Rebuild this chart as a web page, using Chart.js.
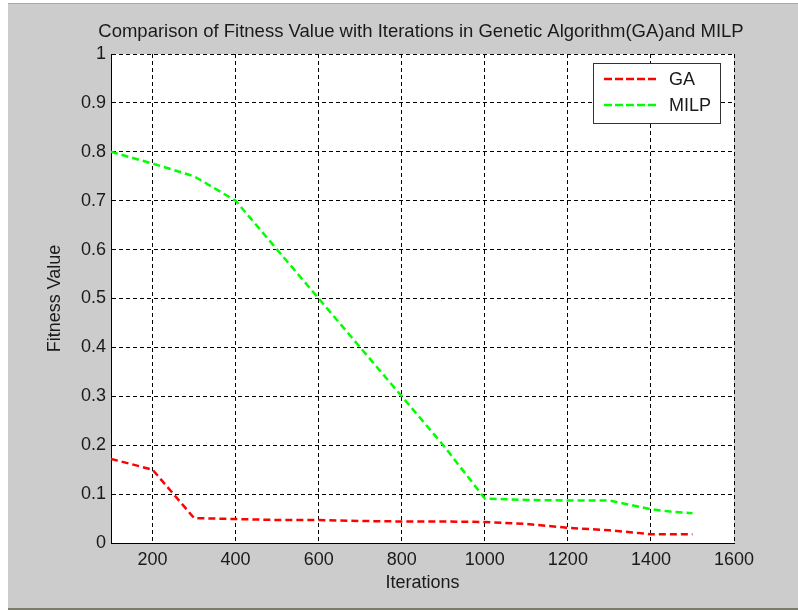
<!DOCTYPE html>
<html>
<head>
<meta charset="utf-8">
<script src="https://cdn.jsdelivr.net/npm/chart.js@4"></script>
<style>
  html, body { margin: 0; padding: 0; background: #cccccc; }
  canvas { display: block; }
</style>
</head>
<body>
<canvas id="fitChart" width="798" height="610"></canvas>
<script>
// data
const iterations = [100, 200, 300, 400, 500, 600, 700, 800, 900, 1000, 1100, 1200, 1300, 1350, 1400, 1450, 1500];
const gaValues   = [0.172, 0.150, 0.051, 0.049, 0.047, 0.047, 0.045, 0.044, 0.044, 0.043, 0.039, 0.031, 0.026, 0.022, 0.018, 0.018, 0.018];
const milpValues = [0.800, 0.776, 0.750, 0.700, 0.600, 0.500, 0.400, 0.300, 0.200, 0.091, 0.088, 0.087, 0.087, 0.078, 0.069, 0.064, 0.061];
const xTicks = [200, 400, 600, 800, 1000, 1200, 1400, 1600];
const yTicks = [0, 0.1, 0.2, 0.3, 0.4, 0.5, 0.6, 0.7, 0.8, 0.9, 1];

const FONT = 'Arial, "Liberation Sans", sans-serif';

function toPoints(xs, ys) {
    return xs.map((x, i) => ({ x: x, y: ys[i] }));
}

const frame = {
    id: 'frame',
    beforeDraw(chart) {
        const ctx = chart.ctx;
        const a = chart.chartArea;
        ctx.save();
        ctx.fillStyle = '#cccccc';
        ctx.fillRect(0, 0, chart.width, chart.height);
        ctx.fillStyle = '#ffffff';
        ctx.fillRect(0, 0, chart.width, 3);
        ctx.fillRect(0, 0, 8, chart.height);
        ctx.fillStyle = '#a8a8a8';
        ctx.fillRect(8, 3, chart.width - 8, 1);
        ctx.fillStyle = '#7c7c6c';
        ctx.fillRect(8, chart.height - 2, chart.width - 8, 2);
        ctx.fillStyle = '#ffffff';
        ctx.fillRect(a.left, a.top, a.right - a.left, a.bottom - a.top);
        ctx.restore();
    },
    afterDraw(chart) {
        const ctx = chart.ctx;
        const a = chart.chartArea;
        ctx.save();
        ctx.fillStyle = '#1a1a1a';
        ctx.textAlign = 'center';
        ctx.textBaseline = 'middle';
        ctx.font = '18.5px ' + FONT;
        ctx.fillText('Comparison of Fitness Value with Iterations in Genetic Algorithm(GA)and MILP', 421, 32);
        ctx.font = '18px ' + FONT;
        ctx.fillText('Iterations', (a.left + a.right) / 2, 583);
        ctx.translate(55, (a.top + a.bottom) / 2);
        ctx.rotate(-Math.PI / 2);
        ctx.fillText('Fitness Value', 0, 0);
        ctx.restore();

        // legend box
        const lx = 593, ly = 63, lw = 127, lh = 60;
        ctx.save();
        ctx.fillStyle = '#ffffff';
        ctx.fillRect(lx, ly, lw, lh);
        ctx.strokeStyle = '#333333';
        ctx.lineWidth = 1;
        ctx.strokeRect(lx + 0.5, ly + 0.5, lw, lh);
        chart.data.datasets.forEach((ds, i) => {
            const yy = 79 + i * 26;
            ctx.strokeStyle = ds.borderColor;
            ctx.lineWidth = 2.5;
            ctx.setLineDash([8, 3]);
            ctx.beginPath();
            ctx.moveTo(604, yy);
            ctx.lineTo(659, yy);
            ctx.stroke();
            ctx.setLineDash([]);
            ctx.fillStyle = '#1a1a1a';
            ctx.font = '18px ' + FONT;
            ctx.textAlign = 'left';
            ctx.textBaseline = 'middle';
            ctx.fillText(ds.label, 669, yy + 1);
        });
        ctx.restore();
    }
};

new Chart(document.getElementById('fitChart'), {
    type: 'line',
    data: {
        datasets: [
            {
                label: 'GA',
                data: toPoints(iterations, gaValues),
                borderColor: '#ff0000',
                borderWidth: 2.5,
                borderDash: [7, 4],
                pointRadius: 0,
                tension: 0,
                fill: false
            },
            {
                label: 'MILP',
                data: toPoints(iterations, milpValues),
                borderColor: '#00ff00',
                borderWidth: 2.5,
                borderDash: [7, 4],
                pointRadius: 0,
                tension: 0,
                fill: false
            }
        ]
    },
    options: {
        responsive: false,
        animation: false,
        layout: { padding: { top: 54, right: 64, left: 0, bottom: 0 } },
        plugins: {
            legend: { display: false },
            tooltip: { enabled: false }
        },
        scales: {
            x: {
                type: 'linear',
                min: 100,
                max: 1600,
                afterBuildTicks: s => { s.ticks = xTicks.map(v => ({ value: v })); },
                afterFit: s => { s.height = 67; },
                grid: { color: '#000000', lineWidth: 1, drawTicks: false },
                border: { color: '#000000', width: 1, dash: [4, 3] },
                ticks: {
                    color: '#1a1a1a',
                    padding: 6,
                    maxRotation: 0,
                    font: { family: FONT, size: 18 },
                    callback: v => String(v)
                }
            },
            y: {
                min: 0,
                max: 1,
                afterBuildTicks: s => { s.ticks = yTicks.map(v => ({ value: v })); },
                afterFit: s => { s.width = 111; },
                grid: { color: '#000000', lineWidth: 1, drawTicks: false },
                border: { color: '#000000', width: 1, dash: [4, 3] },
                ticks: {
                    color: '#1a1a1a',
                    padding: 5,
                    font: { family: FONT, size: 18 },
                    callback: v => String(Math.round(v * 10) / 10)
                }
            }
        }
    },
    plugins: [frame]
});
</script>
</body>
</html>
